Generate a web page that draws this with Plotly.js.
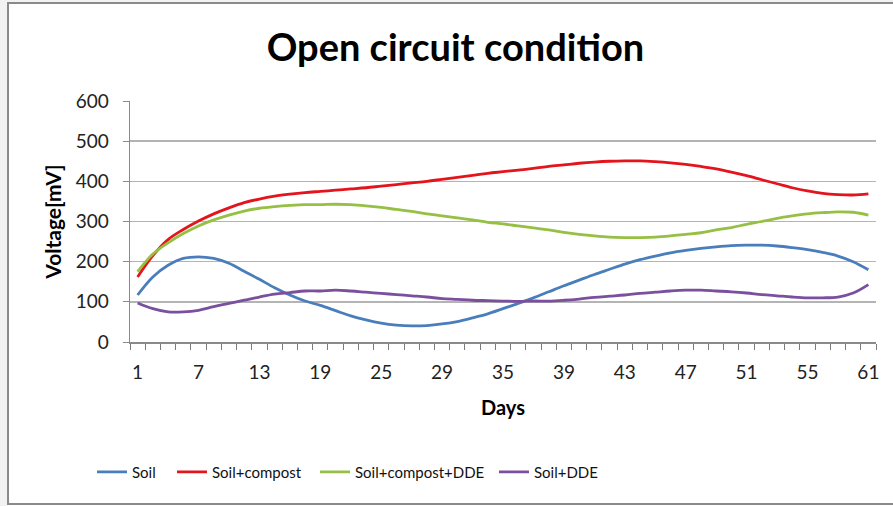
<!DOCTYPE html>
<html>
<head>
<meta charset="utf-8">
<script src="https://cdn.plot.ly/plotly-3.0.1.min.js"></script>
<style>
  html, body { margin: 0; padding: 0; background: #ffffff; }
  #chart { width: 893px; height: 506px; position: absolute; left: 0; top: 0; }
  #frameBand { position: absolute; left: 0; top: 0; width: 7px; height: 506px; background: #f2f2f2; pointer-events: none; }
  #frameTopBand { position: absolute; left: 0; top: 0; width: 893px; height: 2px; background: #f2f2f2; pointer-events: none; }
  #frame { position: absolute; left: 7px; top: 2px; width: 893px; height: 499px;
           border-left: 2px solid #8a8a8a; border-top: 2px solid #8a8a8a; border-bottom: 2px solid #8a8a8a;
           pointer-events: none; box-sizing: content-box; }
</style>
</head>
<body>
<div id="chart"></div>
<div id="frameBand"></div>
<div id="frameTopBand"></div>
<div id="frame"></div>
<script>
// Categories (days), drawn at equal spacing like a category axis; every 4th one is labelled
const days = [1,3,4,5,7,8,10,11,13,14,16,17,19,20,22,23,25,26,27,28,29,30,32,33,35,36,37,38,39,40,41,42,43,44,45,46,47,48,49,50,51,52,53,54,55,56,58,59,61];
const tickLabels = [1,7,13,19,25,29,35,39,43,47,51,55,61];

const soil = [117,162,191,208,212,208,196,176,156,135,117,102,91,78,65,55,47,42,40,41,45,51,60,70,83,96,110,125,140,154,168,181,194,205,214,222,228,233,237,240,241,241,239,235,230,223,214,200,180];
const soilCompost = [162,215,255,280,301,319,334,347,356,363,368,372,375,378,381,384,388,392,396,400,405,410,415,420,424,428,432,437,441,445,448,450,451,451,449,446,442,437,431,423,414,404,394,384,376,370,367,366,369];
const soilCompostDDE = [175,219,247,270,289,304,316,326,333,337,340,342,342,343,342,339,335,330,325,319,314,309,304,298,294,289,284,279,273,268,264,261,260,260,261,264,268,272,279,285,293,300,308,314,319,322,324,323,316];
const soilDDE = [97,83,75,75,79,88,96,104,112,119,123,127,127,129,127,124,121,118,115,112,108,106,104,103,102,101,102,102,104,107,111,114,117,121,124,127,129,129,127,125,122,118,115,112,110,110,112,122,143];

const seriesNames = ['Soil','Soil+compost','Soil+compost+DDE','Soil+DDE'];
const seriesColors = ['#4a7ebb','#e3141b','#95c044','#7a4f9e'];
const seriesData = [soil, soilCompost, soilCompostDDE, soilDDE];
const legendIds = ['legend','legend2','legend3','legend4'];

// category position of each day (equal spacing)
const catPos = days.map((d, i) => i);
const traces = seriesData.map((vals, k) => ({
  type: 'scatter',
  mode: 'lines',
  name: seriesNames[k],
  legend: legendIds[k],
  x: catPos,
  y: vals,
  text: days.map(String),
  line: { color: seriesColors[k], width: 2.8, shape: 'spline', smoothing: 1 },
  hovertemplate: 'Day %{text}: %{y}<extra>' + seriesNames[k] + '</extra>'
}));

const fontFam = 'Lato, "Open Sans", sans-serif';
const plotL = 130, plotW = 893 - 130 - 17;
const legendStarts = [92, 172, 315, 494];
function mkLegend(px) {
  return {
    orientation: 'h',
    x: (px - plotL) / plotW, xanchor: 'left',
    y: -0.54, yanchor: 'middle',
    font: { family: fontFam, size: 15, color: '#111111' },
    bgcolor: 'rgba(0,0,0,0)',
    itemwidth: 30
  };
}

const layout = {
  width: 893,
  height: 506,
  paper_bgcolor: '#ffffff',
  plot_bgcolor: '#ffffff',
  margin: { l: 130, r: 17, t: 101, b: 164 },
  title: {
    text: '<b>Open circuit condition</b>',
    font: { family: fontFam, size: 38, color: '#000000' },
    x: 0.51, xref: 'container', xanchor: 'center',
    y: 1 - 48/506, yref: 'container', yanchor: 'middle'
  },
  showlegend: true,
  legend: mkLegend(legendStarts[0]),
  legend2: mkLegend(legendStarts[1]),
  legend3: mkLegend(legendStarts[2]),
  legend4: mkLegend(legendStarts[3]),
  xaxis: {
    range: [-0.5, days.length - 0.5],
    tickmode: 'array',
    tickvals: tickLabels.map(d => days.indexOf(d)),
    ticktext: tickLabels.map(String),
    ticks: '',
    minor: {
      tickmode: 'linear',
      tick0: -0.5,
      dtick: 1,
      ticks: 'outside',
      ticklen: 6,
      tickwidth: 1,
      tickcolor: '#7a7a7a',
      showgrid: false
    },
    showline: true,
    linecolor: '#8a8a8a',
    linewidth: 1.5,
    showgrid: false,
    zeroline: false,
    tickangle: 0,
    ticklabelstandoff: 13,
    tickfont: { family: fontFam, size: 19, color: '#222222' },
    title: { text: '<b>Days</b>', font: { family: fontFam, size: 20, color: '#000000' }, standoff: 18 }
  },
  yaxis: {
    range: [0, 600],
    tickmode: 'linear',
    tick0: 0,
    dtick: 100,
    ticks: 'outside',
    ticklen: 6,
    tickcolor: '#8a8a8a',
    showline: true,
    linecolor: '#8a8a8a',
    linewidth: 1.5,
    showgrid: true,
    gridcolor: '#b4b4b4',
    gridwidth: 1.5,
    zeroline: false,
    ticklabelstandoff: 10,
    tickfont: { family: fontFam, size: 19, color: '#222222' },
    title: { text: '<b>Voltage[mV]</b>', font: { family: fontFam, size: 21, color: '#000000' }, standoff: 8 }
  }
};

Plotly.newPlot('chart', traces, layout, { displayModeBar: false, staticPlot: true });
</script>
</body>
</html>
